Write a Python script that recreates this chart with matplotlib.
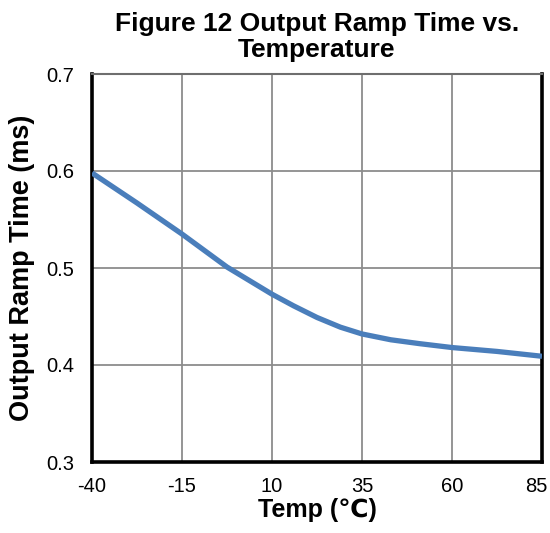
import matplotlib.pyplot as plt
import matplotlib.transforms as mtransforms

plt.rcParams['font.family'] = ['Liberation Sans', 'DejaVu Sans']

DPI = 100

temp = [-40, -27.5, -15, -2.5, 10, 16, 22.5, 29, 35, 43, 51, 60, 72.5, 85]
ramp = [0.598, 0.567, 0.535, 0.501, 0.473, 0.461, 0.449, 0.439, 0.432,
        0.426, 0.422, 0.418, 0.414, 0.409]

xticks = [-40, -15, 10, 35, 60, 85]
yticks = [0.3, 0.4, 0.5, 0.6, 0.7]

fig = plt.figure(figsize=(550/DPI, 533/DPI), dpi=DPI)
ax = fig.add_axes([92/550, 1 - 462/533, 450/550, 388/533])

ax.plot(temp, ramp, color='#4a7ebb', lw=3.8, solid_capstyle='butt',
        solid_joinstyle='round', zorder=3)

ax.set_xlim(-40, 85)
ax.set_ylim(0.3, 0.7)
ax.set_xticks(xticks)
ax.set_yticks(yticks)
ax.set_xticklabels([str(t) for t in xticks])
ax.set_yticklabels(['%.1f' % t for t in yticks])
ax.tick_params(length=0, labelsize=14.5)
ax.tick_params(axis='x', pad=11)
ax.tick_params(axis='y', pad=13)
ax.grid(True, color='#8c8c8c', lw=1.3)

# Excel nudges the last x label so it stays inside the chart
last = ax.get_xticklabels()[-1]
last.set_transform(last.get_transform() + mtransforms.ScaledTranslation(-6/DPI, 0, fig.dpi_scale_trans))

for side in ['left', 'bottom', 'right']:
    ax.spines[side].set_linewidth(2.6)
    ax.spines[side].set_color('black')
ax.spines['top'].set_color('#6e6e6e')
ax.spines['top'].set_linewidth(1.5)

ax.set_xlabel('Temp (\u2103)', fontsize=18, fontweight='bold', labelpad=1)
ax.set_ylabel('Output Ramp Time (ms)', fontsize=19.5, fontweight='bold', labelpad=8)
ax.set_title('Figure 12 Output Ramp Time vs.\nTemperature', fontsize=19,
             fontweight='bold', pad=12, linespacing=1.1)

fig.savefig('out.png', dpi=DPI)
